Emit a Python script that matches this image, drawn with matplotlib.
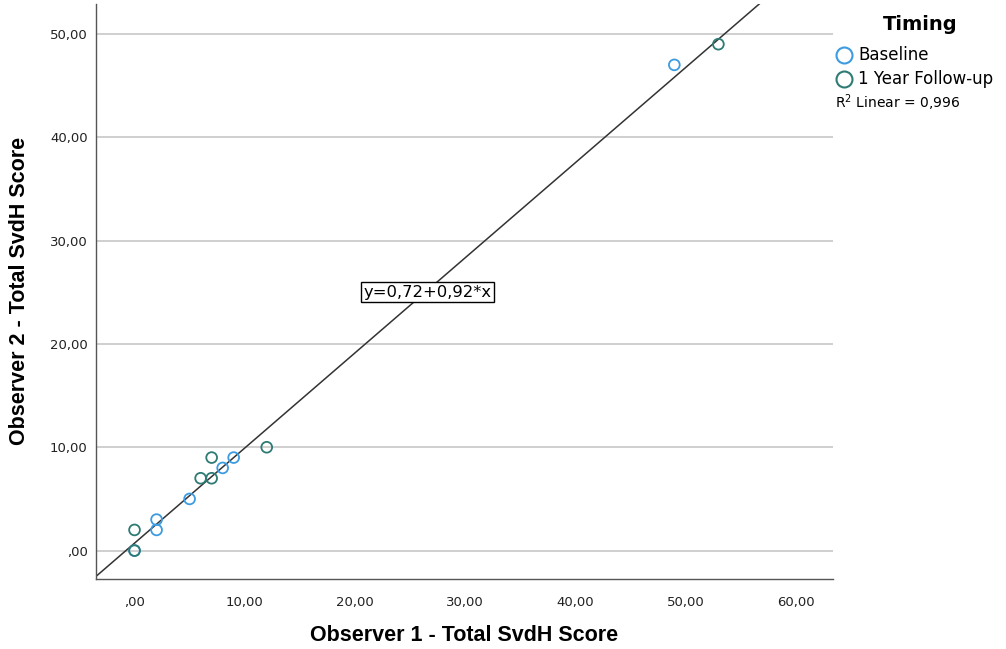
import numpy as np
import matplotlib.pyplot as plt

# Observer scores (Observer 1 on x, Observer 2 on y)
base_x = [0, 2, 2, 5, 8, 9, 49]
base_y = [0, 3, 2, 5, 8, 9, 47]
fu_x = [0, 0, 6, 7, 7, 12, 53]
fu_y = [0, 2, 7, 7, 9, 10, 49]

intercept = 0.72
slope = 0.92
r2_text = 'R$^2$ Linear = 0,996'

x_ticks = [0, 10, 20, 30, 40, 50, 60]
y_ticks = [0, 10, 20, 30, 40, 50]

blue = '#3d9be0'
teal = '#2e7b73'

fig = plt.figure(figsize=(10.06, 6.49), dpi=100)
ax = fig.add_axes([0.0954, 0.108, 0.7326, 0.886])

def fmt(v):
    return ',00' if v == 0 else f'{v},00'

for v in y_ticks:
    ax.axhline(v, color='#cccccc', lw=1.3, zorder=0)

ax.scatter(base_x, base_y, s=60, facecolors='none', edgecolors=blue, linewidths=1.3, zorder=3)
ax.scatter(fu_x, fu_y, s=60, facecolors='none', edgecolors=teal, linewidths=1.3, zorder=3)

xl = (-3.5, 63.4)
yl = (-2.74, 52.9)
xs = np.array(xl)
ax.plot(xs, intercept + slope * xs, color='#333333', lw=1.1, zorder=2)
ax.set_xlim(*xl)
ax.set_ylim(*yl)

ax.text(26.6, 25.0, 'y=0,72+0,92*x', ha='center', va='center', fontsize=11.8,
        bbox=dict(boxstyle='square,pad=0.15', fc='white', ec='black', lw=1))

ax.set_xticks(x_ticks)
ax.set_xticklabels([fmt(v) for v in x_ticks])
ax.set_yticks(y_ticks)
ax.set_yticklabels([fmt(v) for v in y_ticks])
ax.tick_params(length=0, labelsize=9.5, colors='#222222')
ax.tick_params(axis='x', pad=12)
ax.tick_params(axis='y', pad=6)

for s in ['top', 'right']:
    ax.spines[s].set_visible(False)
for s in ['left', 'bottom']:
    ax.spines[s].set_color('#555555')
    ax.spines[s].set_linewidth(1.0)

ax.set_xlabel('Observer 1 - Total SvdH Score', fontsize=15.5, fontweight='bold',
              family='Liberation Sans', labelpad=12)
ax.set_ylabel('Observer 2 - Total SvdH Score', fontsize=15.5, fontweight='bold',
              family='Liberation Sans', labelpad=14)

# legend outside the plot, placed by hand
W, H = 1006, 649
fig.text(920 / W, 1 - 24 / H, 'Timing', ha='center', va='center',
         fontsize=14, fontweight='bold')
for yy, col, lab in [(55, blue, 'Baseline'), (79, teal, '1 Year Follow-up')]:
    ax.plot([844 / W], [1 - yy / H], transform=fig.transFigure, clip_on=False,
            ls='none', marker='o', ms=11.5, mfc='none', mec=col, mew=1.5)
    fig.text(858 / W, 1 - yy / H, lab, ha='left', va='center', fontsize=12)
fig.text(835 / W, 1 - 103 / H, r2_text, fontsize=10, va='center')

fig.savefig('out.png', dpi=100)
